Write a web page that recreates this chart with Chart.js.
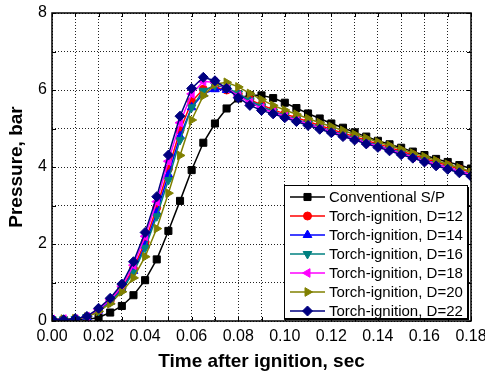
<!DOCTYPE html>
<html>
<head>
<meta charset="utf-8">
<script src="https://cdn.jsdelivr.net/npm/chart.js@4.4.0/dist/chart.umd.min.js"></script>
<style>
html,body{margin:0;padding:0;background:#fff;}
#wrap{width:485px;height:376px;}
</style>
</head>
<body>
<div id="wrap"><canvas id="c" width="485" height="376"></canvas></div>
<script>
// ---- data ----
const times = [0,0.005,0.01,0.015,0.02,0.025,0.03,0.035,0.04,0.045,0.05,0.055,0.06,0.065,0.07,0.075,0.08,0.085,0.09,0.095,0.1,0.105,0.11,0.115,0.12,0.125,0.13,0.135,0.14,0.145,0.15,0.155,0.16,0.165,0.17,0.175,0.18];
const seriesNames = ['Conventional S/P','Torch-ignition, D=12','Torch-ignition, D=14','Torch-ignition, D=16','Torch-ignition, D=18','Torch-ignition, D=20','Torch-ignition, D=22'];
const conventionalSP = [0.02,0.02,0.03,0.04,0.09,0.22,0.39,0.67,1.06,1.60,2.34,3.12,3.92,4.63,5.13,5.52,5.78,5.87,5.86,5.79,5.67,5.53,5.39,5.26,5.13,5.02,4.90,4.79,4.68,4.59,4.50,4.40,4.31,4.21,4.13,4.05,3.96];
const torchD12 = [0.03,0.04,0.05,0.10,0.28,0.52,0.85,1.36,2.05,2.95,3.95,4.95,5.70,6.02,6.06,6.00,5.90,5.75,5.61,5.49,5.38,5.28,5.18,5.08,4.98,4.88,4.79,4.69,4.60,4.51,4.41,4.32,4.22,4.13,4.04,3.95,3.86];
const torchD14 = [0.03,0.03,0.05,0.10,0.27,0.50,0.82,1.30,1.96,2.82,3.80,4.80,5.55,5.90,6.02,6.00,5.88,5.71,5.56,5.44,5.33,5.23,5.13,5.03,4.93,4.84,4.74,4.65,4.55,4.46,4.37,4.27,4.18,4.08,3.99,3.90,3.81];
const torchD16 = [0.04,0.04,0.05,0.10,0.26,0.49,0.80,1.26,1.90,2.72,3.66,4.70,5.55,5.98,6.12,6.06,5.91,5.73,5.57,5.44,5.33,5.23,5.13,5.03,4.93,4.83,4.74,4.64,4.55,4.45,4.36,4.26,4.17,4.07,3.98,3.88,3.79];
const torchD18 = [0.04,0.05,0.05,0.11,0.30,0.55,0.90,1.45,2.20,3.10,4.15,5.15,5.90,6.22,6.20,6.05,5.85,5.67,5.53,5.42,5.32,5.22,5.12,5.02,4.92,4.82,4.73,4.63,4.54,4.45,4.35,4.26,4.16,4.07,3.98,3.89,3.80];
const torchD20 = [0.04,0.05,0.06,0.10,0.25,0.45,0.76,1.12,1.67,2.40,3.32,4.30,5.22,5.85,6.15,6.20,6.08,5.91,5.75,5.60,5.48,5.37,5.26,5.15,5.05,4.95,4.85,4.75,4.65,4.56,4.46,4.36,4.27,4.17,4.07,3.98,3.88];
const torchD22 = [0.05,0.03,0.06,0.12,0.33,0.59,0.96,1.54,2.30,3.23,4.31,5.32,6.04,6.33,6.24,6.04,5.80,5.60,5.47,5.38,5.28,5.18,5.08,4.98,4.89,4.79,4.70,4.60,4.51,4.42,4.32,4.23,4.13,4.03,3.94,3.85,3.76];
const xTickValues = [0,0.01,0.02,0.03,0.04,0.05,0.06,0.07,0.08,0.09,0.1,0.11,0.12,0.13,0.14,0.15,0.16,0.17,0.18];
const yTickValues = [0,1,2,3,4,5,6,7,8];

// ---- styles ----
const allValues = [conventionalSP, torchD12, torchD14, torchD16, torchD18, torchD20, torchD22];
const colors = ['#000000','#ff0000','#0000ff','#008080','#ff00ff','#808000','#000080'];
const pStyles = ['rect','circle','triangle','triangle','triangle','triangle','rectRot'];
const pRot = [0,0,0,180,270,90,0];
const pRad = [5,4,5,5,5,5,5];

Chart.defaults.font.family = 'Arial, "Liberation Sans", sans-serif';
Chart.defaults.color = '#000';

const datasets = allValues.map((vals, i) => ({
  label: seriesNames[i],
  data: times.map((t, j) => ({x: t, y: vals[j]})),
  borderColor: colors[i],
  backgroundColor: colors[i],
  pointBackgroundColor: colors[i],
  pointBorderColor: colors[i],
  borderWidth: 1.5,
  pointRadius: pRad[i],
  pointStyle: pStyles[i],
  pointRotation: pRot[i],
  pointBorderWidth: 1,
  tension: 0,
  order: 7 - i
}));

function drawMarker(ctx, style, x, y, r, rotDeg) {
  const rad = rotDeg * Math.PI / 180;
  ctx.beginPath();
  if (style === 'rect') {
    const s = Math.SQRT1_2 * r;
    ctx.rect(x - s, y - s, 2 * s, 2 * s);
  } else if (style === 'circle') {
    ctx.arc(x, y, r, 0, Math.PI * 2);
  } else if (style === 'triangle') {
    let a = rad;
    ctx.moveTo(x + Math.sin(a) * r, y - Math.cos(a) * r);
    a += 2 * Math.PI / 3;
    ctx.lineTo(x + Math.sin(a) * r, y - Math.cos(a) * r);
    a += 2 * Math.PI / 3;
    ctx.lineTo(x + Math.sin(a) * r, y - Math.cos(a) * r);
    ctx.closePath();
  } else if (style === 'rectRot') {
    ctx.moveTo(x, y - r); ctx.lineTo(x + r, y); ctx.lineTo(x, y + r); ctx.lineTo(x - r, y); ctx.closePath();
  }
  ctx.fill();
  ctx.stroke();
}

const framePlugin = {
  id: 'frame',
  afterDatasetsDraw(chart) {
    const {ctx, chartArea: a, scales} = chart;
    const xs = scales.x, ys = scales.y;
    ctx.save();
    // inward ticks
    ctx.strokeStyle = '#000';
    ctx.lineWidth = 1;
    ctx.beginPath();
    xTickValues.forEach(v => {
      const px = Math.round(xs.getPixelForValue(v)) + 0.5;
      ctx.moveTo(px, a.bottom); ctx.lineTo(px, a.bottom - 4);
      ctx.moveTo(px, a.top); ctx.lineTo(px, a.top + 4);
    });
    yTickValues.forEach(v => {
      const py = Math.round(ys.getPixelForValue(v)) + 0.5;
      ctx.moveTo(a.left, py); ctx.lineTo(a.left + 4, py);
      ctx.moveTo(a.right, py); ctx.lineTo(a.right - 4, py);
    });
    ctx.stroke();
    // frame
    ctx.lineWidth = 1.5;
    ctx.strokeRect(a.left, a.top, a.right - a.left, a.bottom - a.top);
    // legend
    const L = 284, T = 185, R = 467, B = 318;
    ctx.fillStyle = '#000';
    ctx.fillRect(L + 2, T + 2, R - L, B - T);
    ctx.fillStyle = '#fff';
    ctx.fillRect(L, T, R - L, B - T);
    ctx.lineWidth = 1;
    ctx.strokeStyle = '#000';
    ctx.strokeRect(L + 0.5, T + 0.5, R - L, B - T);
    ctx.font = '15px Arial, "Liberation Sans", sans-serif';
    ctx.textBaseline = 'middle';
    ctx.textAlign = 'left';
    seriesNames.forEach((name, i) => {
      const yy = 197 + i * 19;
      ctx.strokeStyle = colors[i];
      ctx.fillStyle = colors[i];
      ctx.lineWidth = 1.5;
      ctx.beginPath(); ctx.moveTo(290, yy); ctx.lineTo(325, yy); ctx.stroke();
      ctx.lineWidth = 1;
      drawMarker(ctx, pStyles[i], 307.5, yy, pRad[i], pRot[i]);
      ctx.fillStyle = '#000';
      ctx.fillText(name, 329, yy + 1);
    });
    ctx.restore();
  }
};

new Chart(document.getElementById('c'), {
  type: 'line',
  data: {datasets},
  options: {
    responsive: false,
    animation: false,
    layout: {padding: {left: 0, right: 14, top: 13, bottom: 0}},
    plugins: {legend: {display: false}, tooltip: {enabled: false}},
    scales: {
      x: {
        type: 'linear', min: 0, max: 0.18,
        afterBuildTicks(s) { s.ticks = xTickValues.map(v => ({value: v})); },
        afterFit(s) { s.height = 55; s.paddingLeft = 0; s.paddingRight = 0; },
        ticks: {
          autoSkip: false, maxRotation: 0, minRotation: 0, padding: 6,
          font: {size: 16}, color: '#000',
          callback: (v) => (Math.round(v * 100) % 2 === 0 ? v.toFixed(2) : '')
        },
        grid: {drawTicks: false, color: '#222', lineWidth: 1},
        border: {display: false, dash: [1, 2]},
        title: {display: true, text: 'Time after ignition, sec', font: {size: 19, weight: 'bold'}, color: '#000', padding: {top: 0, bottom: 3}}
      },
      y: {
        min: 0, max: 8,
        afterBuildTicks(s) { s.ticks = yTickValues.map(v => ({value: v})); },
        afterFit(s) { s.width = 52; s.paddingTop = 0; s.paddingBottom = 0; },
        ticks: {
          autoSkip: false, padding: 5, font: {size: 16}, color: '#000',
          callback: (v) => (v % 2 === 0 ? String(v) : '')
        },
        grid: {drawTicks: false, color: '#222', lineWidth: 1},
        border: {display: false, dash: [1, 2]},
        title: {display: true, text: 'Pressure, bar', font: {size: 19, weight: 'bold'}, color: '#000', padding: {top: 5, bottom: 0}}
      }
    }
  },
  plugins: [framePlugin]
});
</script>
</body>
</html>
